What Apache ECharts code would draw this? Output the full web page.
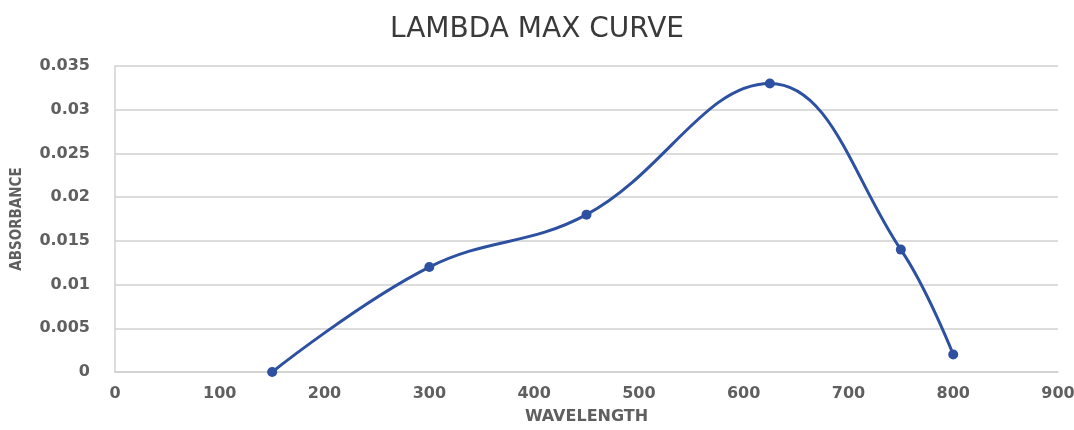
<!DOCTYPE html>
<html>
<head>
<meta charset="utf-8">
<script src="https://cdn.jsdelivr.net/npm/echarts@6/dist/echarts.min.js"></script>
<style>
  html, body { margin: 0; padding: 0; background: #fff; }
  #chart { width: 1074px; height: 430px; }
</style>
</head>
<body>
<div id="chart"></div>
<script>
// wavelength (nm) vs absorbance
const wavelength = [150, 300, 450, 625, 750, 800]
const absorbance = [0, 0.012, 0.018, 0.033, 0.014, 0.002]

const lineColor = '#2d50a0'
const labelColor = '#5f5f5f'

const myChart = echarts.init(document.getElementById('chart'))

myChart.setOption({
  animation: false,
  title: {
    text: 'LAMBDA MAX CURVE',
    left: 'center',
    top: 11,
    textStyle: {
      fontFamily: 'DejaVu Sans',
      fontWeight: 'normal',
      fontSize: 28,
      color: '#3a3a3a'
    }
  },
  grid: {
    left: 115,
    right: 16,
    top: 66,
    bottom: 58,
    outerBoundsMode: 'none'
  },
  xAxis: {
    type: 'value',
    min: 0,
    max: 900,
    interval: 100,
    name: 'WAVELENGTH',
    nameLocation: 'middle',
    nameGap: 37,
    nameTextStyle: {
      fontFamily: 'DejaVu Sans',
      fontWeight: 'bold',
      fontSize: 16,
      color: labelColor
    },
    axisLine: { show: true, lineStyle: { color: '#d0d0d0', width: 1.5 } },
    axisTick: { show: false },
    splitLine: { show: false },
    axisLabel: {
      margin: 14,
      fontFamily: 'DejaVu Sans',
      fontWeight: 'bold',
      fontSize: 16,
      color: labelColor
    }
  },
  yAxis: {
    type: 'value',
    min: 0,
    max: 0.035,
    interval: 0.005,
    name: 'ABSORBANCE',
    nameLocation: 'middle',
    nameGap: 90,
    nameTextStyle: {
      fontFamily: 'DejaVu Sans Condensed',
      fontWeight: 'bold',
      fontSize: 15,
      color: labelColor
    },
    axisLine: { show: true, lineStyle: { color: '#d0d0d0', width: 1.5 } },
    axisTick: { show: false },
    splitLine: { show: true, lineStyle: { color: '#d0d0d0', width: 1.5 } },
    axisLabel: {
      margin: 25,
      fontFamily: 'DejaVu Sans',
      fontWeight: 'bold',
      fontSize: 16,
      color: labelColor,
      formatter: v => v === 0 ? '0' : String(+v.toFixed(3))
    }
  },
  series: [{
    type: 'line',
    data: wavelength.map((x, i) => [x, absorbance[i]]),
    smooth: 0.4,
    symbol: 'circle',
    symbolSize: 10,
    lineStyle: { color: lineColor, width: 3 },
    itemStyle: { color: lineColor }
  }]
})
</script>
</body>
</html>
